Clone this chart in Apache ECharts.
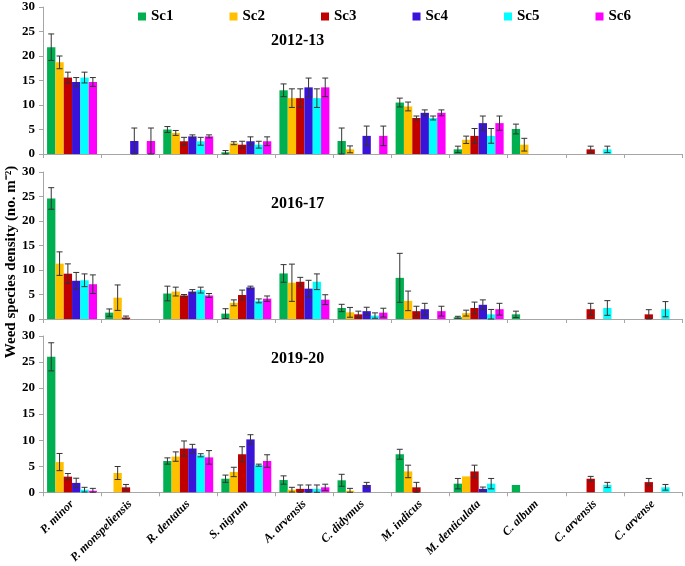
<!DOCTYPE html>
<html>
<head>
<meta charset="utf-8">
<script src="https://cdn.jsdelivr.net/npm/echarts@6/dist/echarts.min.js"></script>
<style>
  html, body { margin: 0; padding: 0; background: #fff; }
  #chart { width: 685px; height: 566px; }
</style>
</head>
<body>
<div id="chart"></div>
<script>
var species = ['P. minor', 'P. monspeliensis', 'R. dentatus', 'S. nigrum', 'A. arvensis', 'C. didymus',
    'M. indicus', 'M. denticulata', 'C. album', 'C. arvensis', 'C. arvense'];
var scenarios = ['Sc1', 'Sc2', 'Sc3', 'Sc4', 'Sc5', 'Sc6'];
var years = ['2012-13', '2016-17', '2019-20'];
var yTicks = [0, 5, 10, 15, 20, 25, 30];

// 2012-13 means and standard errors
var mean2012_sc1 = [21.8, 0, 5.0, 0.35, 13.0, 2.65, 10.5, 0.95, 5.1, 0, 0];
var mean2012_sc2 = [18.7, 0, 4.3, 2.2, 11.4, 0.95, 9.7, 2.9, 1.9, 0, 0];
var mean2012_sc3 = [15.6, 0, 2.6, 1.9, 11.4, 0, 7.35, 3.7, 0, 0.95, 0];
var mean2012_sc4 = [14.7, 2.65, 3.6, 2.6, 13.6, 3.7, 8.4, 6.3, 0, 0, 0];
var mean2012_sc5 = [15.6, 0, 2.6, 1.9, 11.4, 0, 7.35, 3.7, 0, 0.95, 0];
var mean2012_sc6 = [14.7, 2.65, 3.6, 2.6, 13.6, 3.7, 8.4, 6.3, 0, 0, 0];
var err2012_sc1 = [2.7, 0, 0.6, 0.35, 1.3, 2.65, 0.9, 0.65, 1.0, 0, 0];
var err2012_sc2 = [1.3, 0, 0.5, 0.3, 1.9, 0.7, 0.9, 0.75, 1.3, 0, 0];
var err2012_sc3 = [1.1, 0, 0.8, 0.7, 1.9, 0, 0.4, 1.5, 0, 0.65, 0];
var err2012_sc4 = [0.9, 2.65, 0.3, 0.9, 1.9, 2.0, 0.6, 1.45, 0, 0, 0];
var err2012_sc5 = [1.1, 0, 0.8, 0.7, 1.9, 0, 0.4, 1.5, 0, 0.65, 0];
var err2012_sc6 = [0.9, 2.65, 0.3, 0.9, 1.9, 2.0, 0.6, 1.45, 0, 0, 0];

// 2016-17
var mean2016_sc1 = [24.6, 1.3, 5.2, 1.1, 9.3, 2.25, 8.4, 0.35, 0.95, 0, 0];
var mean2016_sc2 = [11.3, 4.35, 5.6, 3.3, 7.4, 1.36, 3.7, 1.2, 0, 0, 0];
var mean2016_sc3 = [9.25, 0.3, 4.8, 4.9, 7.6, 0.95, 1.6, 2.25, 0, 2.0, 0.95];
var mean2016_sc4 = [7.8, 0, 5.6, 6.45, 6.2, 1.6, 2.0, 2.9, 0, 0, 0];
var mean2016_sc5 = [7.9, 0, 5.9, 3.7, 7.6, 0.7, 0, 0.95, 0, 2.25, 2.0];
var mean2016_sc6 = [7.1, 0, 4.8, 4.15, 3.95, 1.3, 1.6, 2.0, 0, 0, 0];
var err2016_sc1 = [2.2, 0.75, 1.5, 1.0, 1.8, 0.75, 5.0, 0.2, 0.65, 0, 0];
var err2016_sc2 = [2.4, 2.6, 0.9, 0.6, 3.8, 1.0, 2.0, 0.6, 0, 0, 0];
var err2016_sc3 = [2.0, 0.3, 0.2, 1.0, 0.9, 0.65, 1.0, 1.2, 0, 1.2, 0.95];
var err2016_sc4 = [1.7, 0, 0.4, 0.25, 1.7, 0.8, 1.2, 1.0, 0, 0, 0];
var err2016_sc5 = [1.3, 0, 0.6, 0.4, 1.6, 0.55, 0, 1.0, 0, 1.5, 1.55];
var err2016_sc6 = [1.9, 0, 0.4, 0.55, 1.0, 0.9, 1.0, 1.2, 0, 0, 0];

// 2019-20
var mean2019_sc1 = [26.0, 0, 6.0, 2.6, 2.35, 2.3, 7.3, 1.65, 1.4, 0, 0];
var mean2019_sc2 = [5.8, 3.7, 6.85, 3.9, 0.5, 0.3, 4.0, 3.05, 0, 0, 0];
var mean2019_sc3 = [3.0, 0.95, 8.4, 7.3, 0.65, 0, 0.95, 4.0, 0, 2.6, 1.95];
var mean2019_sc4 = [1.8, 0, 8.4, 10.15, 0.65, 1.4, 0, 0.65, 0, 0, 0];
var mean2019_sc5 = [0.5, 0, 7.1, 5.2, 0.65, 0, 0, 1.65, 0, 1.4, 0.95];
var mean2019_sc6 = [0.3, 0, 6.7, 6.0, 0.95, 0, 0, 0, 0, 0, 0];
var err2019_sc1 = [2.7, 0, 0.6, 0.7, 0.8, 1.15, 0.95, 1.0, 0, 0, 0];
var err2019_sc2 = [1.65, 1.25, 0.9, 0.9, 0.45, 0.45, 1.2, 0, 0, 0, 0];
var err2019_sc3 = [0.6, 0.55, 1.45, 1.45, 0.75, 0, 0.95, 1.2, 0, 0.45, 0.7];
var err2019_sc4 = [0.9, 0, 0.8, 0.9, 0.75, 0.5, 0, 0.35, 0, 0, 0];
var err2019_sc5 = [0.45, 0, 0.3, 0.2, 0.75, 0, 0, 1.0, 0, 0.5, 0.55];
var err2019_sc6 = [0.45, 0, 1.3, 1.2, 0.6, 0, 0, 0, 0, 0, 0];

var colors = ['#00B050', '#FFC000', '#C00000', '#3A13D9', '#00FFFF', '#FF00FF'];

var means = [
    [mean2012_sc1, mean2012_sc2, mean2012_sc3, mean2012_sc4, mean2012_sc5, mean2012_sc6],
    [mean2016_sc1, mean2016_sc2, mean2016_sc3, mean2016_sc4, mean2016_sc5, mean2016_sc6],
    [mean2019_sc1, mean2019_sc2, mean2019_sc3, mean2019_sc4, mean2019_sc5, mean2019_sc6]
];
var errs = [
    [err2012_sc1, err2012_sc2, err2012_sc3, err2012_sc4, err2012_sc5, err2012_sc6],
    [err2016_sc1, err2016_sc2, err2016_sc3, err2016_sc4, err2016_sc5, err2016_sc6],
    [err2019_sc1, err2019_sc2, err2019_sc3, err2019_sc4, err2019_sc5, err2019_sc6]
];

var font = '"Liberation Serif", "Times New Roman", serif';
var gapRatio = 0.14;

var grids = [
    {left: 43, right: 3, top: 7, height: 147},
    {left: 43, right: 3, top: 172, height: 147},
    {left: 43, right: 3, top: 336, height: 157}
];
var titleTops = [28, 191, 346];

var chart = echarts.init(document.getElementById('chart'));

var xAxes = [], yAxes = [], series = [], titles = [];
for (var g = 0; g < 3; g++) {
    xAxes.push({
        type: 'category',
        gridIndex: g,
        data: species,
        axisLine: {lineStyle: {color: '#a6a6a6', width: 1}},
        axisTick: {show: true, length: 4, lineStyle: {color: '#a6a6a6'}},
        axisLabel: {
            show: g === 2,
            rotate: 45,
            interval: 0,
            margin: 10,
            fontFamily: font,
            fontSize: 12,
            fontWeight: 'bold',
            fontStyle: 'italic',
            color: '#000'
        }
    });
    yAxes.push({
        type: 'value',
        gridIndex: g,
        min: yTicks[0],
        max: yTicks[yTicks.length - 1],
        interval: 5,
        splitLine: {show: false},
        axisLine: {show: true, lineStyle: {color: '#a6a6a6'}},
        axisTick: {show: true, length: 4, lineStyle: {color: '#a6a6a6'}},
        axisLabel: {fontFamily: font, fontSize: 13, fontWeight: 'bold', color: '#000', margin: 8}
    });
    titles.push({
        text: years[g],
        left: 266,
        top: titleTops[g],
        textStyle: {fontFamily: font, fontSize: 16, fontWeight: 'bold', color: '#000'}
    });
    for (var s = 0; s < 6; s++) {
        series.push({
            name: scenarios[s],
            type: 'bar',
            xAxisIndex: g,
            yAxisIndex: g,
            data: means[g][s],
            itemStyle: {color: colors[s]},
            barGap: '0%',
            barCategoryGap: (gapRatio * 100) + '%',
            silent: true
        });
    }
    for (var s2 = 0; s2 < 6; s2++) {
        var errData = [];
        for (var i = 0; i < species.length; i++) {
            if (errs[g][s2][i] > 0) {
                errData.push([i, means[g][s2][i], errs[g][s2][i]]);
            }
        }
        series.push({
            type: 'custom',
            xAxisIndex: g,
            yAxisIndex: g,
            data: errData,
            z: 10,
            silent: true,
            renderItem: (function (idx) {
                return function (params, api) {
                    var band = api.size([1, 0])[0];
                    var barW = band * (1 - gapRatio) / 6;
                    var off = -band * (1 - gapRatio) / 2 + barW * (idx + 0.5);
                    var c = api.value(0), v = api.value(1), e = api.value(2);
                    var hi = api.coord([c, v + e]);
                    var lo = api.coord([c, Math.max(v - e, 0)]);
                    var x = hi[0] + off;
                    var cap = 3;
                    var st = {stroke: '#333', lineWidth: 1};
                    return {
                        type: 'group',
                        children: [
                            {type: 'line', shape: {x1: x, y1: hi[1], x2: x, y2: lo[1]}, style: st},
                            {type: 'line', shape: {x1: x - cap, y1: hi[1], x2: x + cap, y2: hi[1]}, style: st},
                            {type: 'line', shape: {x1: x - cap, y1: lo[1], x2: x + cap, y2: lo[1]}, style: st}
                        ]
                    };
                };
            })(s2)
        });
    }
}

var option = {
    animation: false,
    title: titles,
    legend: {
        data: scenarios,
        top: 4,
        left: 133,
        itemWidth: 8,
        itemHeight: 8,
        itemGap: 56,
        icon: 'rect',
        textStyle: {fontFamily: font, fontSize: 15, fontWeight: 'bold', color: '#000'}
    },
    grid: grids,
    xAxis: xAxes,
    yAxis: yAxes,
    series: series,
    graphic: [{
        type: 'text',
        x: 11,
        y: 262,
        rotation: Math.PI / 2,
        style: {
            text: 'Weed species density (no. m⁻²)',
            fontFamily: font,
            fontSize: 15,
            fontWeight: 'bold',
            fill: '#000',
            align: 'center',
            verticalAlign: 'middle'
        }
    }]
};
chart.setOption(option);
</script>
</body>
</html>
